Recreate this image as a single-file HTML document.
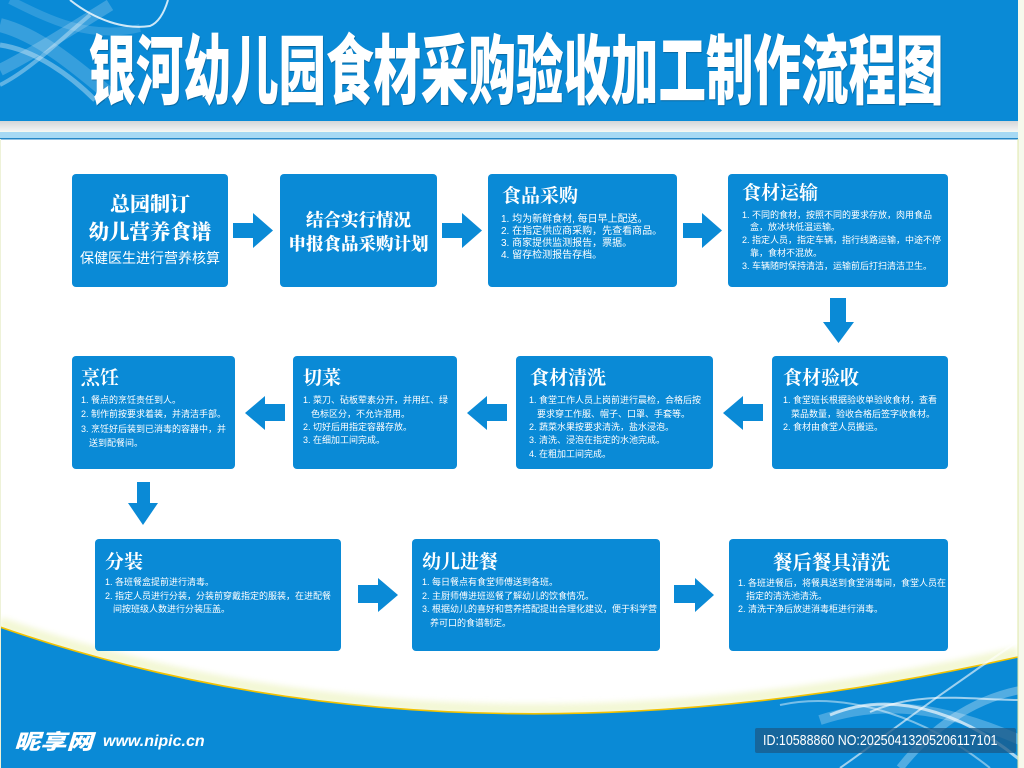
<!DOCTYPE html>
<html>
<head>
<meta charset="utf-8">
<style>
html,body{margin:0;padding:0;}
body{width:1024px;height:768px;position:relative;overflow:hidden;background:#fff;font-family:"Liberation Sans","Noto Sans CJK SC",sans-serif;}
.bg{position:absolute;left:0;top:0;}
.box{position:absolute;background:#0a8ad6;border-radius:4px;}
.t{position:absolute;color:#fff;white-space:nowrap;}
.ttl{font-family:"Noto Serif CJK SC","Noto Sans CJK SC",serif;font-weight:700;font-size:19px;line-height:24px;}
.big{font-family:"Noto Serif CJK SC","Noto Sans CJK SC",serif;font-weight:900;text-align:center;}
.body{font-family:"Liberation Sans","Noto Sans CJK SC",sans-serif;font-size:9px;}
.body div{white-space:nowrap;}
.body .in{padding-left:8px;}
</style>
</head>
<body>
<svg class="bg" width="1024" height="768" viewBox="0 0 1024 768">
  <defs>
    <linearGradient id="gr" x1="0" y1="0" x2="0" y2="1">
      <stop offset="0" stop-color="#d4d6d8"/>
      <stop offset="1" stop-color="#f3f4f4"/>
    </linearGradient>
    <filter id="bl" x="-10%" y="-50%" width="120%" height="200%"><feGaussianBlur stdDeviation="3"/></filter>
  </defs>
  <!-- header -->
  <rect x="0" y="0" width="1024" height="121" fill="#0a8ad6"/>
  <rect x="0" y="121" width="1024" height="10" fill="url(#gr)"/>
  <rect x="0" y="131" width="1024" height="1" fill="#f4f8f0"/>
  <rect x="0" y="132" width="1024" height="6" fill="#a6d9f4"/>
  <rect x="0" y="138" width="1024" height="1.5" fill="#2486c6"/>
  <!-- header swirls -->
  <g fill="none" stroke="#ffffff">
    <path d="M0,25 C40,35 80,70 110,95" stroke-width="14" opacity="0.18"/>
    <path d="M0,70 C30,55 70,30 110,5" stroke-width="12" opacity="0.2"/>
    <path d="M0,45 C35,50 70,75 95,100" stroke-width="5" opacity="0.35"/>
    <path d="M0,85 C30,70 60,40 90,15" stroke-width="4" opacity="0.35"/>
    <path d="M70,0 C95,20 125,30 150,26 C160,22 165,10 168,0" stroke-width="2" opacity="0.8"/>
    <path d="M10,0 C50,20 90,40 140,28" stroke-width="8" opacity="0.15"/>
  </g>
  <!-- bottom blue -->
  <path d="M0,623 Q451,780 1018,653" fill="none" stroke="#eef4c4" stroke-width="12" opacity="0.7" filter="url(#bl)"/>
  <path d="M0,627 Q451,784 1018,657 L1018,768 L0,768 Z" fill="#0a8ad6"/>
  <path d="M0,627 Q451,784 1018,657" fill="none" stroke="#f2c200" stroke-width="1.6"/>
  <!-- bottom-right swirls -->
  <g fill="none" stroke="#ffffff">
    <path d="M840,768 C880,740 930,700 1020,640" stroke-width="2" opacity="0.6"/>
    <path d="M820,720 C880,700 940,705 1020,740" stroke-width="10" opacity="0.25"/>
    <path d="M830,715 C890,690 960,710 1020,760" stroke-width="3" opacity="0.65"/>
    <path d="M870,712 C920,690 970,700 1020,700" stroke-width="2" opacity="0.6"/>
    <path d="M900,768 C930,730 970,700 1020,690" stroke-width="8" opacity="0.3"/>
    <path d="M780,705 C850,690 930,720 990,768" stroke-width="2" opacity="0.45"/>
  </g>
  <!-- side strips -->
  <rect x="1018" y="0" width="6" height="768" fill="#f6f9ec"/>
  <rect x="1017.5" y="139" width="1" height="629" fill="#dfe8a8"/>
  <rect x="0" y="139" width="1" height="629" fill="#eef2d8"/>
  <!-- ID box -->
  <rect x="755" y="728" width="261" height="25" rx="2" fill="#1b5a88" opacity="0.75"/>
  <!-- arrows -->
  <g fill="#0a8ad6">
    <polygon points="233,223 253,223 253,213 273,230.5 253,248 253,238 233,238"/>
    <polygon points="442,223 462,223 462,213 482,230.5 462,248 462,238 442,238"/>
    <polygon points="683,223 702,223 702,213 722,230.5 702,248 702,238 683,238"/>
    <polygon points="830,298 846,298 846,322 854,322 838.5,343 823,322 830,322"/>
    <polygon points="763,404 743,404 743,396 723,413 743,430 743,421 763,421"/>
    <polygon points="507,404 487,404 487,396 467,413 487,430 487,421 507,421"/>
    <polygon points="285,404 265,404 265,396 245,413 265,430 265,421 285,421"/>
    <polygon points="137,482 150,482 150,503 158,503 143,525 128,503 137,503"/>
    <polygon points="358,585 378,585 378,578 398,595 378,612 378,603 358,603"/>
    <polygon points="674,585 695,585 695,578 714,595 695,612 695,603 674,603"/>
  </g>
</svg>

<!-- main title -->
<div class="t" style="left:516px;top:27px;font-family:'Noto Sans CJK SC',sans-serif;font-weight:900;font-size:76px;line-height:76px;transform:translateX(-50%) scaleX(0.625);transform-origin:center;text-shadow:1px 1px 1px rgba(0,0,0,0.25);">银河幼儿园食材采购验收加工制作流程图</div>

<!-- Row 1 -->
<div class="box" style="left:72px;top:174px;width:156px;height:113px;"></div>
<div class="t big" style="left:72px;width:156px;top:190px;font-size:20px;line-height:26px;">总园制订</div>
<div class="t big" style="left:72px;width:156px;top:217px;font-size:20.5px;line-height:26px;">幼儿营养食谱</div>
<div class="t" style="left:72px;width:156px;top:249px;font-size:14px;line-height:18px;text-align:center;font-family:'Noto Sans CJK SC',sans-serif;">保健医生进行营养核算</div>

<div class="box" style="left:280px;top:174px;width:157px;height:113px;"></div>
<div class="t big" style="left:280px;width:157px;top:208px;font-size:17.5px;line-height:24px;">结合实行情况</div>
<div class="t big" style="left:280px;width:157px;top:232px;font-size:17.5px;line-height:24px;">申报食品采购计划</div>

<div class="box" style="left:488px;top:174px;width:189px;height:113px;"></div>
<div class="t ttl" style="left:502px;top:183px;">食品采购</div>
<div class="t body" style="left:501px;top:214px;font-size:10px;line-height:12px;">
<div>1. 均为新鲜食材, 每日早上配送。</div>
<div>2. 在指定供应商采购，先查看商品。</div>
<div>3. 商家提供监测报告，票据。</div>
<div>4. 留存检测报告存档。</div>
</div>

<div class="box" style="left:728px;top:174px;width:220px;height:113px;"></div>
<div class="t ttl" style="left:742px;top:180px;">食材运输</div>
<div class="t body" style="left:742px;top:208.6px;line-height:12.8px;">
<div>1. 不同的食材，按照不同的要求存放，肉用食品</div>
<div class="in">盒，放冰块低温运输。</div>
<div>2. 指定人员，指定车辆，指行线路运输，中途不停</div>
<div class="in">靠，食材不混放。</div>
<div>3. 车辆随时保持清洁，运输前后打扫清洁卫生。</div>
</div>

<!-- Row 2 -->
<div class="box" style="left:72px;top:356px;width:163px;height:113px;"></div>
<div class="t ttl" style="left:81px;top:365px;">烹饪</div>
<div class="t body" style="left:81px;top:392.7px;line-height:14.6px;">
<div>1. 餐点的烹饪责任到人。</div>
<div>2. 制作前按要求着装，并清洁手部。</div>
<div>3. 烹饪好后装到已消毒的容器中，并</div>
<div class="in">送到配餐间。</div>
</div>

<div class="box" style="left:293px;top:356px;width:164px;height:113px;"></div>
<div class="t ttl" style="left:303px;top:365px;">切菜</div>
<div class="t body" style="left:303px;top:394.35px;line-height:13.3px;">
<div>1. 菜刀、砧板荤素分开，并用红、绿</div>
<div class="in">色标区分，不允许混用。</div>
<div>2. 切好后用指定容器存放。</div>
<div>3. 在细加工间完成。</div>
</div>

<div class="box" style="left:516px;top:356px;width:197px;height:113px;"></div>
<div class="t ttl" style="left:530px;top:365px;">食材清洗</div>
<div class="t body" style="left:529px;top:394.35px;line-height:13.3px;">
<div>1. 食堂工作人员上岗前进行晨检，合格后按</div>
<div class="in">要求穿工作服、帽子、口罩、手套等。</div>
<div>2. 蔬菜水果按要求清洗，盐水浸泡。</div>
<div>3. 清洗、浸泡在指定的水池完成。</div>
<div>4. 在粗加工间完成。</div>
</div>

<div class="box" style="left:772px;top:356px;width:176px;height:113px;"></div>
<div class="t ttl" style="left:783px;top:365px;">食材验收</div>
<div class="t body" style="left:783px;top:394.35px;line-height:13.3px;">
<div>1. 食堂班长根据验收单验收食材，查看</div>
<div class="in">菜品数量，验收合格后签字收食材。</div>
<div>2. 食材由食堂人员搬运。</div>
</div>

<!-- Row 3 -->
<div class="box" style="left:95px;top:539px;width:246px;height:112px;"></div>
<div class="t ttl" style="left:105px;top:549px;">分装</div>
<div class="t body" style="left:105px;top:576.25px;line-height:13.5px;">
<div>1. 各班餐盒提前进行清毒。</div>
<div>2. 指定人员进行分装，分装前穿戴指定的服装，在进配餐</div>
<div class="in">间按班级人数进行分装压盖。</div>
</div>

<div class="box" style="left:412px;top:539px;width:248px;height:112px;"></div>
<div class="t ttl" style="left:422px;top:549px;">幼儿进餐</div>
<div class="t body" style="left:422px;top:576.25px;line-height:13.5px;">
<div>1. 每日餐点有食堂师傅送到各班。</div>
<div>2. 主厨师傅进班巡餐了解幼儿的饮食情况。</div>
<div>3. 根据幼儿的喜好和营养搭配提出合理化建议，便于科学营</div>
<div class="in">养可口的食谱制定。</div>
</div>

<div class="box" style="left:729px;top:539px;width:219px;height:112px;"></div>
<div class="t ttl" style="left:773px;top:549px;font-size:19.5px;">餐后餐具清洗</div>
<div class="t body" style="left:738px;top:576.5px;line-height:13px;">
<div>1. 各班进餐后，将餐具送到食堂消毒间，食堂人员在</div>
<div class="in">指定的清洗池清洗。</div>
<div>2. 清洗干净后放进消毒柜进行消毒。</div>
</div>

<!-- watermark -->
<div class="t" style="left:14px;top:729px;font-family:'Noto Sans CJK SC',sans-serif;font-weight:900;font-style:italic;font-size:21px;line-height:24px;transform:scaleX(1.25);transform-origin:left;">昵享网</div>
<div class="t" style="left:103px;top:732px;font-family:'Liberation Sans',sans-serif;font-weight:bold;font-style:italic;font-size:16px;line-height:20px;">www.nipic.cn</div>
<div class="t" style="left:763px;top:732px;font-family:'Liberation Sans',sans-serif;font-size:15px;line-height:18px;transform:scaleX(0.83);transform-origin:left;">ID:10588860 NO:20250413205206117101</div>
</body>
</html>
